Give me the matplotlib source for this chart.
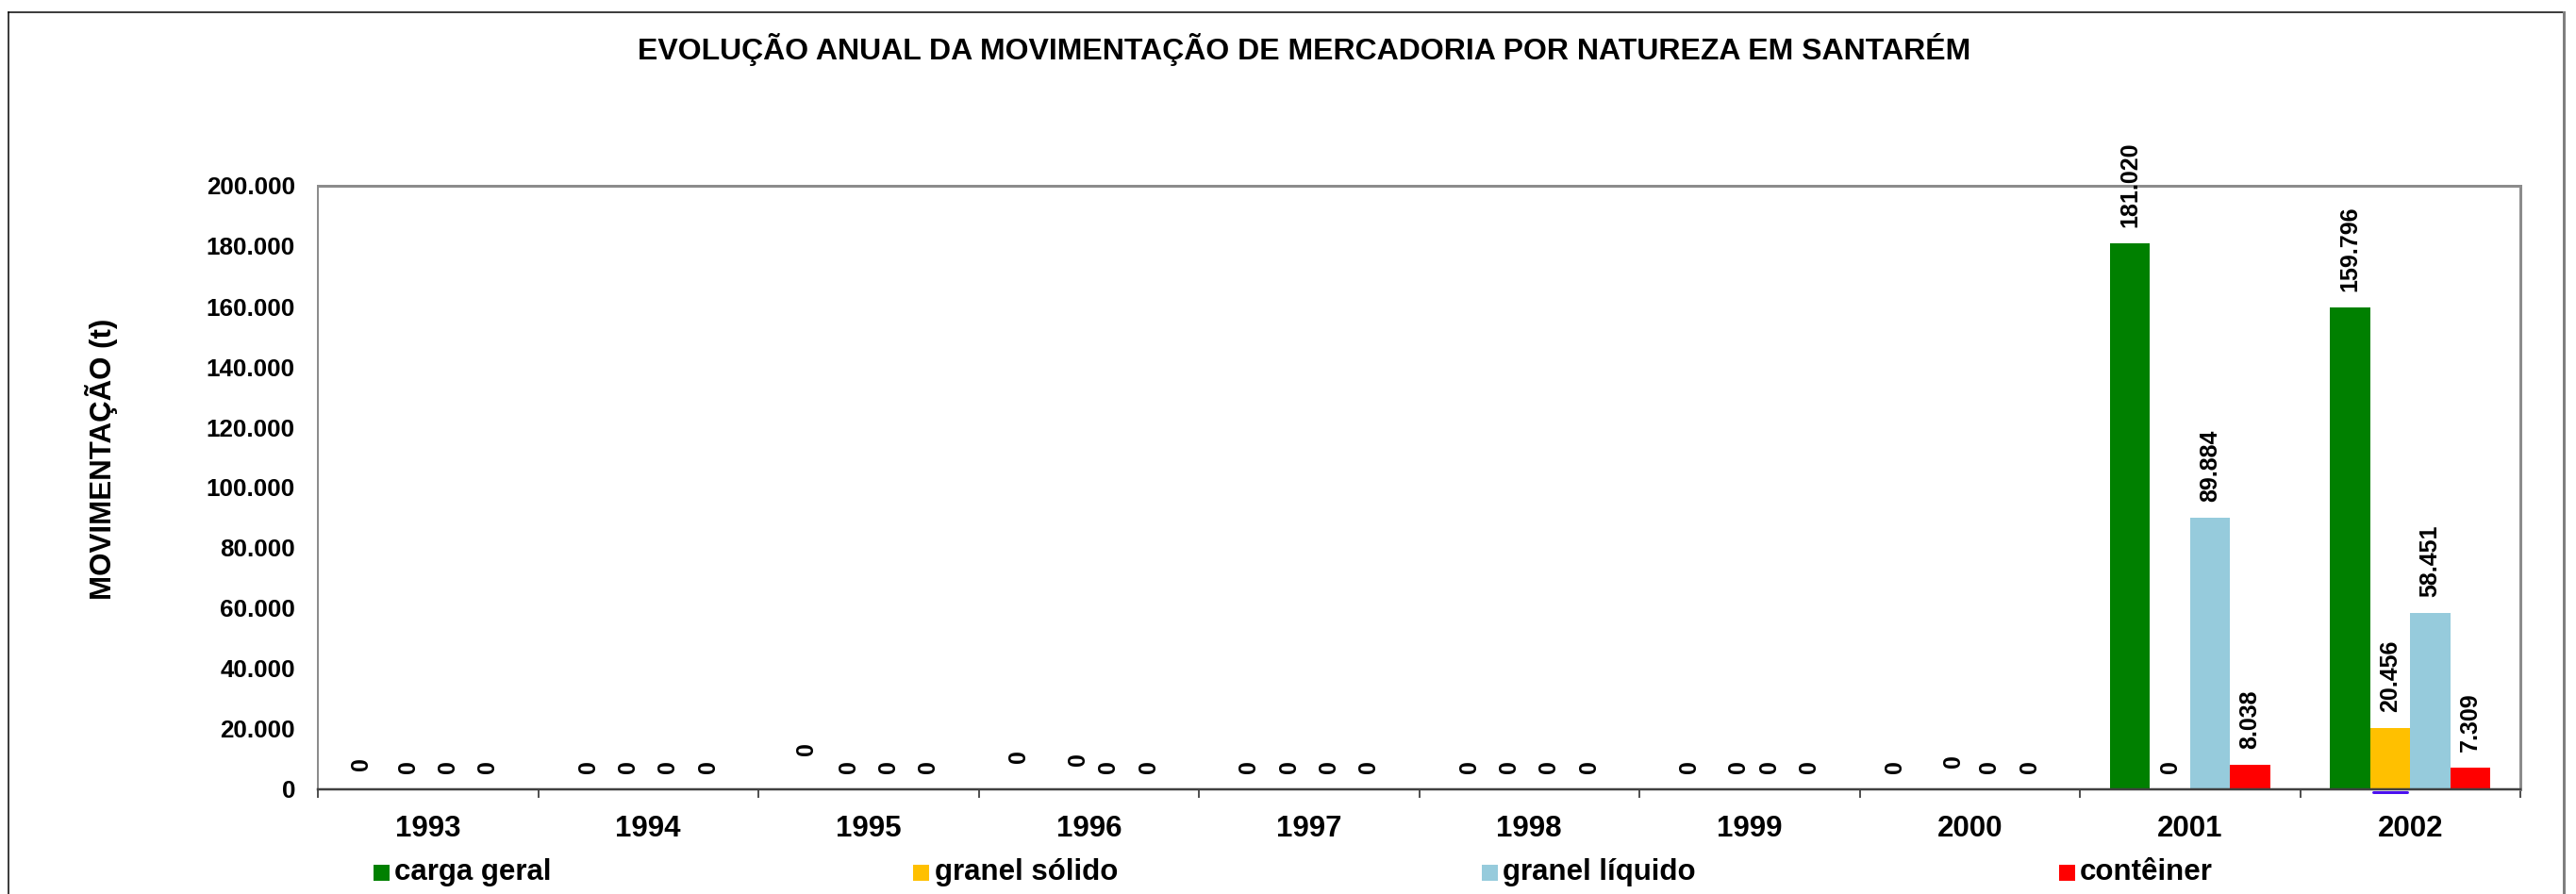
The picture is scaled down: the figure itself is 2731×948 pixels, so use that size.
import matplotlib
matplotlib.use("Agg")
import matplotlib.pyplot as plt
from matplotlib.lines import Line2D
from matplotlib.patches import Rectangle
import matplotlib.transforms as mtransforms
import numpy as np

# ---------------- data ----------------
years = ["1993", "1994", "1995", "1996", "1997", "1998", "1999", "2000", "2001", "2002"]
series_names = ["carga geral", "granel sólido", "granel líquido", "contêiner"]
carga_geral = [0, 0, 0, 0, 0, 0, 0, 0, 181020, 159796]
granel_solido = [0, 0, 0, 0, 0, 0, 0, 0, 0, 20456]
granel_liquido = [0, 0, 0, 0, 0, 0, 0, 0, 89884, 58451]
conteiner = [0, 0, 0, 0, 0, 0, 0, 0, 8038, 7309]
y_ticks = [0, 20000, 40000, 60000, 80000, 100000, 120000, 140000, 160000, 180000, 200000]

title = "EVOLUÇÃO ANUAL DA MOVIMENTAÇÃO DE MERCADORIA POR NATUREZA EM SANTARÉM"
ylabel = "MOVIMENTAÇÃO (t)"

# ---------------- style ----------------
W, H, DPI = 2731, 948, 100
colors = ["#008000", "#FFC000", "#96CBDC", "#FF0000"]
FONT = ["Liberation Sans", "DejaVu Sans"]
plt.rcParams["font.family"] = FONT
plt.rcParams["font.weight"] = "bold"

PX = 72.0 / DPI  # points per pixel


def fx(px):
    return px / W


def fy(py):
    return 1 - py / H


def fmt(v):
    return f"{v:,.0f}".replace(",", ".")


fig = plt.figure(figsize=(W / DPI, H / DPI), dpi=DPI)
fig.patch.set_facecolor("white")

ax_left, ax_right, ax_top, ax_bot = 337, 2672, 197, 837
ax = fig.add_axes([fx(ax_left), fy(ax_bot), fx(ax_right - ax_left), (ax_bot - ax_top) / H])

series = [carga_geral, granel_solido, granel_liquido, conteiner]
n = len(years)
x = np.arange(n)
bw = 0.182

# manual label nudges (pixels) for a few zero labels, as in the reference
nudges = {
    (0, 0): (-7, 3),
    (0, 2): (-2, 19),
    (0, 3): (-11, 11),
    (1, 3): (10, 8),
    (1, 6): (9, 0),
    (0, 7): (-16, 0),
    (1, 7): (4, 6),
}

for si, vals in enumerate(series):
    xs = x + (si - 1.5) * bw
    ax.bar(xs, vals, width=bw, color=colors[si], edgecolor="none", zorder=2)
    for yi, (xx, v) in enumerate(zip(xs, vals)):
        dx, dy = nudges.get((si, yi), (0, 0))
        ax.annotate(fmt(v), xy=(xx, v), xytext=(dx * PX, (17 + dy) * PX),
                    textcoords="offset points", rotation=90, ha="center", va="bottom",
                    fontsize=18, fontweight="bold", color="black", annotation_clip=False)

ax.set_xlim(-0.5, n - 0.5)
ax.set_ylim(0, 200000)

# small violet rendering artefact under the 2002 "granel sólido" bar
xs_solid = x + (1 - 1.5) * bw
trans = ax.transData + mtransforms.ScaledTranslation(0, -3 * PX / 72, fig.dpi_scale_trans)
ax.plot([xs_solid[-1] - bw * 0.42, xs_solid[-1] + bw * 0.42], [0, 0], color="#4B10F0",
        lw=3 * PX, solid_capstyle="round", transform=trans, clip_on=False, zorder=1)

# y axis
ax.set_yticks(y_ticks)
ax.set_yticklabels([fmt(v) for v in y_ticks], fontsize=18.7, fontweight="bold")
ax.tick_params(axis="y", length=0, pad=24 * PX)

# x axis: boundary ticks (major) + year labels (minor)
ax.set_xticks(np.arange(-0.5, n, 1.0))
ax.set_xticklabels([])
ax.set_xticks(x, minor=True)
ax.set_xticklabels(years, minor=True, fontsize=22.5, fontweight="bold")
ax.tick_params(axis="x", which="major", length=9 * PX, width=1.2, color="#303030", direction="out")
ax.tick_params(axis="x", which="minor", length=0, pad=27 * PX)

for side in ["top", "right"]:
    ax.spines[side].set_color("#8C8C8C")
    ax.spines[side].set_linewidth(3 * PX)
ax.spines["left"].set_color("#8C8C8C")
ax.spines["left"].set_linewidth(2 * PX)
ax.spines["bottom"].set_color("#404040")
ax.spines["bottom"].set_linewidth(2.5 * PX)
ax.grid(False)

# title & y label
fig.text(fx(1383), fy(52), title, ha="center", va="center", fontsize=23, fontweight="bold")
fig.text(fx(108), fy(487), ylabel, ha="center", va="center", rotation=90,
         fontsize=22.5, fontweight="bold")

# legend (manual, Excel-like)
leg_x = [404, 977, 1579, 2191]
leg_y = 925
msz = 17
for i, name in enumerate(series_names):
    fig.add_artist(Rectangle((fx(leg_x[i] - msz / 2), fy(leg_y + msz / 2)), msz / W, msz / H,
                             transform=fig.transFigure, facecolor=colors[i], edgecolor="none"))
    fig.text(fx(leg_x[i] + 14), fy(leg_y), name, ha="left", va="center",
             fontsize=22.5, fontweight="bold")

# chart-area border
fig.add_artist(Line2D([fx(9), fx(2718)], [fy(13), fy(13)], transform=fig.transFigure,
                      color="black", lw=1.5 * PX))
fig.add_artist(Line2D([fx(9), fx(9)], [fy(13), 0], transform=fig.transFigure,
                      color="black", lw=1.5 * PX))
fig.add_artist(Line2D([fx(2718), fx(2718)], [fy(13), 0], transform=fig.transFigure,
                      color="#7F7F7F", lw=3 * PX))

fig.savefig("out.png", dpi=DPI, facecolor="white")
